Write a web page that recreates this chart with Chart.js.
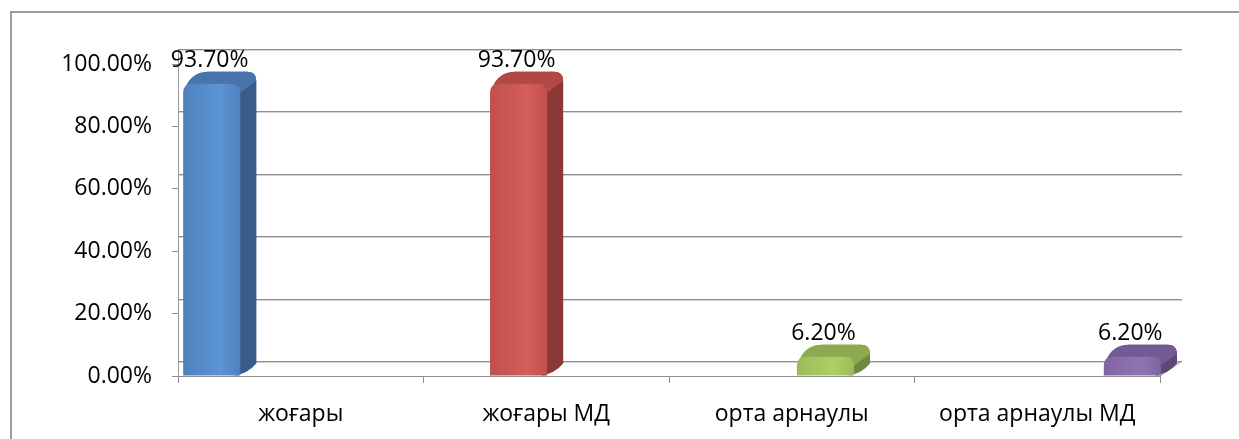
<!DOCTYPE html>
<html>
<head>
<meta charset="utf-8">
<script src="https://cdn.jsdelivr.net/npm/chart.js@4.4.1/dist/chart.umd.min.js"></script>
<style>
  html, body { margin: 0; padding: 0; background: #fff; }
  #wrap { position: relative; width: 1239px; height: 439px; overflow: hidden; }
  #frame {
    position: absolute; left: 10px; top: 11px; width: 1300px; height: 500px;
    border-left: 2px solid #9c9c9c; border-top: 2px solid #9c9c9c;
  }
  canvas { position: absolute; left: 0; top: 0; }
</style>
</head>
<body>
<div id="wrap">
  <div id="frame"></div>
  <canvas id="chart" width="1239" height="439"></canvas>
</div>
<script>
// data
const categories = ["жоғары", "жоғары МД", "орта арнаулы", "орта арнаулы МД"];
const values = [93.7, 93.7, 6.2, 6.2];
const yTicks = [0, 20, 40, 60, 80, 100];

// colours: front face, highlight, side face, top face
const faceColors = ["#4f81bd", "#c0504d", "#9bbb59", "#8064a2"];
const lightColors = ["#5b93d6", "#d45e5a", "#aed066", "#9075b5"];
const sideColors = ["#385d8a", "#8c3836", "#71893f", "#5c4776"];
const topColors = ["#4674ab", "#b04845", "#8cab4f", "#735a93"];

const FONT = "'Open Sans', 'Noto Sans', sans-serif";
const FONT_SIZE = 23;
const wall = { dx: 22, dy: -15 };   // back wall offset
const bar3d = { dx: 16, dy: -12, shift: 3 };  // bar depth

const fmt = v => v.toFixed(2) + "%";

// back wall grid lines, drawn before the bars
const wallPlugin = {
  id: "wall",
  beforeDatasetsDraw(chart) {
    const { ctx, chartArea: a, scales } = chart;
    const y = scales.y;
    ctx.save();
    yTicks.forEach(v => {
      const py = Math.round(y.getPixelForValue(v) + wall.dy) + 0.5;
      ctx.strokeStyle = "#d4d4d4";
      ctx.lineWidth = 1;
      ctx.beginPath(); ctx.moveTo(a.left, py + 1); ctx.lineTo(a.right + wall.dx, py + 1); ctx.stroke();
      ctx.strokeStyle = "#8e8e8e";
      ctx.beginPath(); ctx.moveTo(a.left, py); ctx.lineTo(a.right + wall.dx, py); ctx.stroke();
    });
    // left wall edge and floor right edge
    ctx.strokeStyle = "#9a9a9a";
    ctx.beginPath();
    ctx.moveTo(a.left + 0.5, y.getPixelForValue(100) + wall.dy);
    ctx.lineTo(a.left + 0.5, a.bottom);
    ctx.stroke();
    ctx.beginPath();
    ctx.moveTo(a.right, a.bottom);
    ctx.lineTo(a.right + wall.dx, a.bottom + wall.dy);
    ctx.stroke();
    ctx.restore();
  }
};

function roundTopRect(ctx, l, t, w, h, r) {
  r = Math.min(r, w / 2, h);
  ctx.beginPath();
  ctx.moveTo(l, t + h);
  ctx.lineTo(l, t + r);
  ctx.quadraticCurveTo(l, t, l + r, t);
  ctx.lineTo(l + w - r, t);
  ctx.quadraticCurveTo(l + w, t, l + w, t + r);
  ctx.lineTo(l + w, t + h);
  ctx.closePath();
}

// 3D bars + value labels
const barPlugin = {
  id: "bars3d",
  afterDatasetsDraw(chart) {
    const { ctx } = chart;
    ctx.save();
    chart.data.datasets.forEach((ds, i) => {
      const meta = chart.getDatasetMeta(i);
      meta.data.forEach((el, j) => {
        const v = ds.data[j];
        if (v == null) return;
        const p = el.getProps(["x", "y", "base", "width"], true);
        const x = p.x + bar3d.shift, width = p.width;
        const L = x - width / 2, R = x + width / 2, T = p.y, B = p.base;
        const dx = bar3d.dx, dy = bar3d.dy, r = 9;

        // back silhouette
        ctx.fillStyle = sideColors[i];
        roundTopRect(ctx, L + dx, T + dy, width, B - T, r);
        ctx.fill();
        // side face
        ctx.beginPath();
        ctx.moveTo(R - 2, T + r);
        ctx.lineTo(R + dx, T + dy + r);
        ctx.lineTo(R + dx, B + dy);
        ctx.quadraticCurveTo(R + dx / 2, B + dy / 2 + 4, R - 6, B);
        ctx.lineTo(R - 2, B);
        ctx.closePath();
        ctx.fill();
        // top face
        ctx.fillStyle = topColors[i];
        ctx.beginPath();
        ctx.moveTo(L + 2, T + r / 2);
        ctx.quadraticCurveTo(L + dx / 2, T + dy, L + dx + r, T + dy);
        ctx.lineTo(R + dx - r, T + dy);
        ctx.quadraticCurveTo(R + dx, T + dy, R + dx, T + dy + r);
        ctx.lineTo(R, T + r);
        ctx.lineTo(R - r, T);
        ctx.closePath();
        ctx.fill();
        // front face
        const g = ctx.createLinearGradient(L, 0, R, 0);
        g.addColorStop(0, faceColors[i]);
        g.addColorStop(0.65, lightColors[i]);
        g.addColorStop(1, faceColors[i]);
        ctx.fillStyle = g;
        roundTopRect(ctx, L, T, width, B - T, r);
        ctx.fill();

        // value label
        ctx.fillStyle = "#000";
        ctx.font = FONT_SIZE + "px " + FONT;
        ctx.textAlign = "center";
        ctx.textBaseline = "middle";
        ctx.fillText(fmt(v), x - 2, T - 23);
      });
    });
    ctx.restore();
  }
};

const datasets = categories.map((c, i) => ({
  label: c,
  data: categories.map((_, j) => (j === i ? values[i] : null)),
  backgroundColor: "rgba(0,0,0,0)",
  borderWidth: 0,
  barPercentage: 0.93,
  categoryPercentage: 1.0
}));

new Chart(document.getElementById("chart"), {
  type: "bar",
  data: { labels: categories, datasets },
  options: {
    responsive: false,
    animation: false,
    devicePixelRatio: 1,
    layout: { padding: { top: 64, right: 79, left: 0, bottom: 0 } },
    plugins: { legend: { display: false }, tooltip: { enabled: false } },
    scales: {
      x: {
        grid: { drawOnChartArea: false, offset: true, tickLength: 7, color: "#8e8e8e" },
        border: { color: "#8e8e8e" },
        ticks: { color: "#000", font: { family: FONT, size: FONT_SIZE }, padding: 18, maxRotation: 0 },
        afterFit(s) { s.height = 63; }
      },
      y: {
        min: 0, max: 100,
        grid: { drawOnChartArea: false, tickLength: 6, color: "#8e8e8e" },
        border: { color: "#8e8e8e" },
        ticks: {
          stepSize: 20, color: "#000", padding: 20,
          font: { family: FONT, size: FONT_SIZE },
          callback: v => fmt(v)
        },
        afterFit(s) { s.width = 178; }
      }
    }
  },
  plugins: [wallPlugin, barPlugin]
});
</script>
</body>
</html>
